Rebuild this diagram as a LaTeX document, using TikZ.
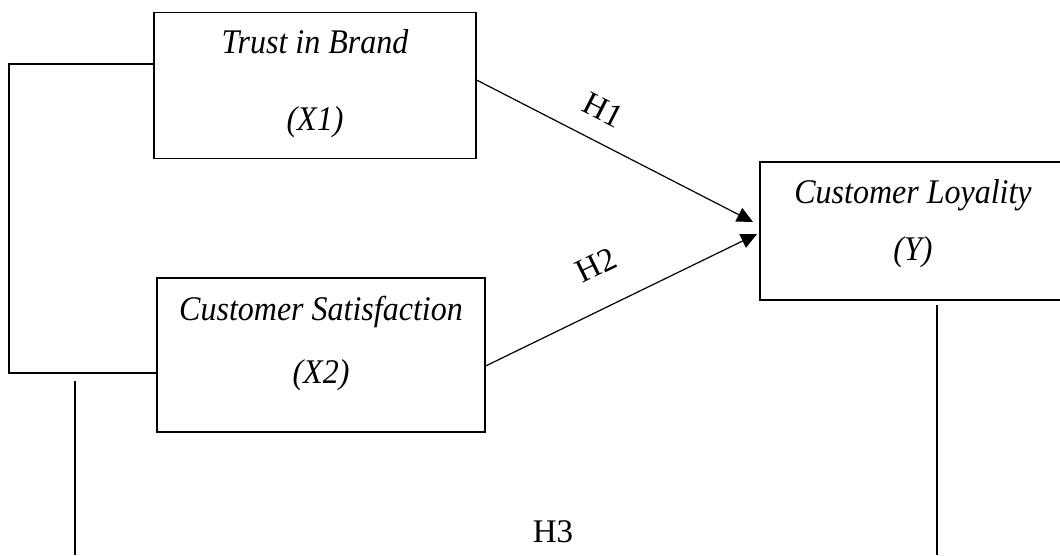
\documentclass[tikz,border=0pt]{standalone}
\usepackage{fontspec}
\setmainfont{Liberation Serif}
\usetikzlibrary{arrows.meta}
\begin{document}
\begin{tikzpicture}[x=1pt,y=-1pt,
  boxnode/.style={draw,line width=1.2pt,inner sep=0pt},
  txt/.style={anchor=base,inner sep=0pt,font=\fontsize{32}{36}\selectfont\itshape,yscale=1.08,transform shape},
  hlab/.style={inner sep=0pt,font=\fontsize{33}{38}\selectfont},
  conn/.style={line width=1.2pt},
  arr/.style={line width=1.2pt,-{Triangle[length=16pt,width=15pt]}}]
\clip (0,0) rectangle (1060,555);
\fill[white] (0,0) rectangle (1060,555);
% boxes
\node[boxnode,minimum width=322pt,minimum height=146pt] (x1) at (315,85.5) {};
\node[boxnode,minimum width=328pt,minimum height=154pt] (x2) at (321,355) {};
\node[boxnode,minimum width=306pt,minimum height=138pt] (y) at (913,231) {};
% texts
\node[txt] (t1a) at (315,53) {Trust in Brand};
\node[txt] (t1b) at (315,130) {(X1)};
\node[txt] (t2a) at (321,320) {Customer Satisfaction};
\node[txt] (t2b) at (321,383) {(X2)};
\node[txt] (tya) at (913,203) {Customer Loyality};
\node[txt] (tyb) at (913,260) {(Y)};
% bracket
\coordinate (b1) at (9,64);
\coordinate (b2) at (9,373);
\draw[conn] (x1.west |- b1) -- (b1) -- (b2) -- (x2.west |- b2);
% arrows
\coordinate (s1) at (476,80);
\coordinate (e1) at (753,222);
\coordinate (s2) at (485,366);
\coordinate (e2) at (757,234);
\draw[arr] (x1.east |- s1) -- (e1);
\draw[arr] (x2.east |- s2) -- (e2);
\node[hlab,rotate=-27] (h1) at (603,110) {H1};
\node[hlab,rotate=26] (h2) at (596,265) {H2};
% H3 lines
\coordinate (l1) at (75,381);
\coordinate (l2) at (75,555);
\coordinate (r1) at (937,305);
\coordinate (r2) at (937,555);
\draw[conn] (l1) -- (l2);
\draw[conn] (r1) -- (r2);
\node[hlab,anchor=base] (h3) at (553,542) {H3};
\end{tikzpicture}
\end{document}
